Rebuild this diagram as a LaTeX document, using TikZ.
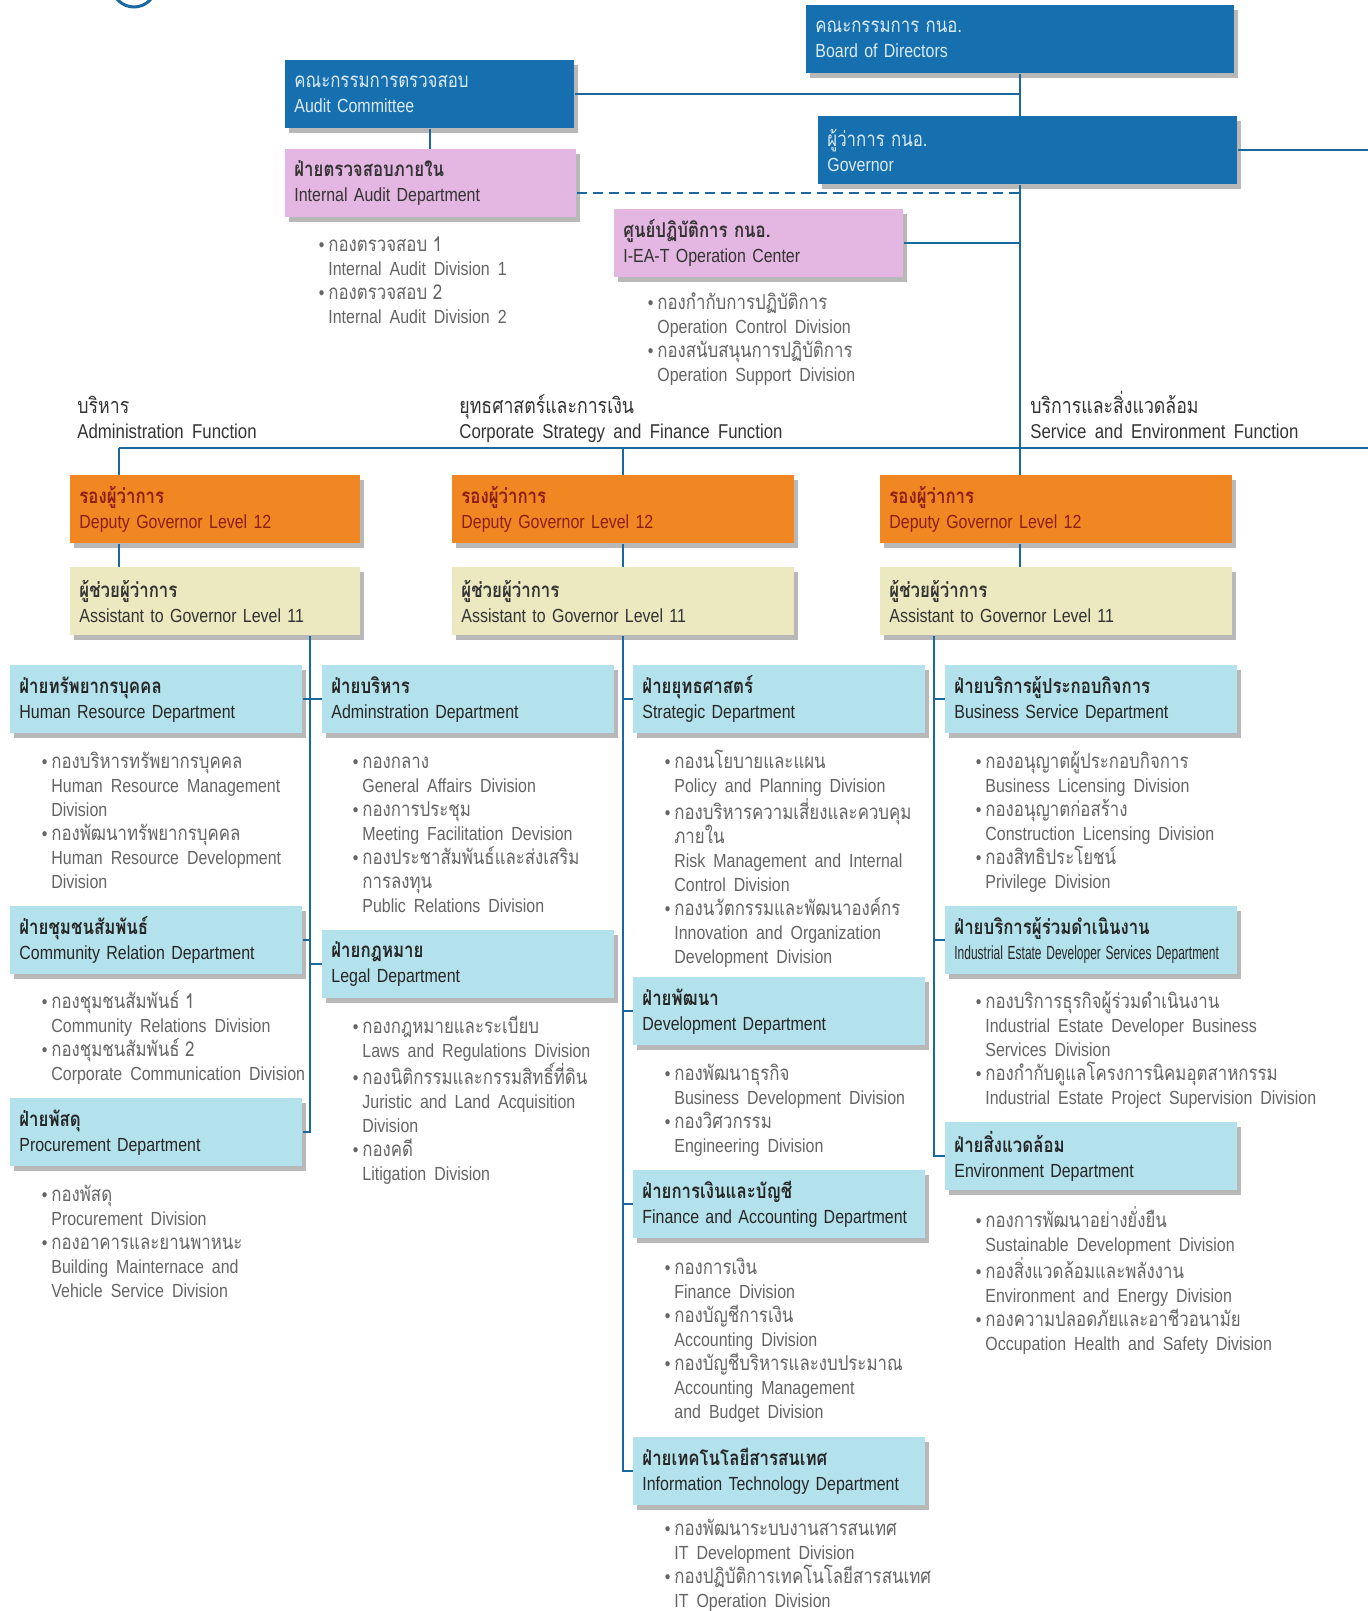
\documentclass[tikz,border=0pt]{standalone}
\usepackage{fontspec}
\setmainfont{Liberation Sans}[FakeStretch=0.84, WordSpace=1.8]
\newfontfamily\thaifont[Script=Thai, Scale=1.08, FakeStretch=0.82]{Loma}
\usepackage{graphicx}
\usetikzlibrary{positioning, shadows}

\definecolor{boardblue}{RGB}{22,112,176}
\definecolor{auditpink}{RGB}{228,182,226}
\definecolor{deporange}{RGB}{240,135,35}
\definecolor{asstyellow}{RGB}{236,232,192}
\definecolor{deptcyan}{RGB}{180,226,236}
\definecolor{linkblue}{RGB}{25,105,160}
\definecolor{divgray}{RGB}{100,100,100}
\definecolor{depred}{RGB}{140,30,20}

\newcommand{\thline}[1]{{\thaifont #1}}
\newcommand{\thhead}[1]{{\thaifont\bfseries #1}}
\newcommand{\topstrut}{\vrule height 9.5pt width 0pt}
\newcommand{\labelstrut}{\vrule height 12pt width 0pt}
\newcommand{\bul}{\llap{\textbullet\hspace{2pt}}\topstrut}

\begin{document}
\begin{tikzpicture}[
    x=0.5pt, y=-0.5pt,
    every node/.style={font=\fontsize{9.5}{12.5}\selectfont},
    box/.style={rectangle, anchor=north west, inner xsep=4.5pt, inner ysep=0pt,
                minimum height=34pt, align=left,
                drop shadow={shadow xshift=2pt, shadow yshift=-2.5pt, opacity=0.28, fill=black}},
    topbox/.style={box, fill=boardblue, text=white!85!boardblue},
    pinkbox/.style={box, fill=auditpink, text=black!80},
    depbox/.style={box, fill=deporange, text=depred},
    asstbox/.style={box, fill=asstyellow, text=black!80},
    deptbox/.style={box, fill=deptcyan, text=black!85, text width=137pt},
    divlist/.style={anchor=north west, inner sep=0pt, align=left, text=divgray,
                    font=\fontsize{9.5}{12}\selectfont},
    funclabel/.style={anchor=north west, inner sep=0pt, align=left, text=black!80,
                      font=\fontsize{10}{12.5}\selectfont},
    link/.style={draw=linkblue, line width=1pt},
    dashlink/.style={link, dash pattern=on 5pt off 3pt},
]
\useasboundingbox (0,0) rectangle (1368,1611);
\clip (0,0) rectangle (1368,1611);

\draw[linkblue, line width=1.5pt] (134,-15) circle[radius=22];

% top level
\node[topbox, text width=205pt] (board) at (806,5) {\thline{คณะกรรมการ กนอ.}\\Board of Directors};
\node[topbox, text width=200.5pt] (gov) at (818,116) {\thline{ผู้ว่าการ กนอ.}\\Governor};
\node[topbox, text width=135.5pt] (audit) at (285,60) {\thline{คณะกรรมการตรวจสอบ}\\Audit Committee};
\node[pinkbox, text width=136.5pt] (iad) at (285,149) {\thhead{ฝ่ายตรวจสอบภายใน}\\Internal Audit Department};
\node[pinkbox, text width=135.5pt] (ioc) at (614,209) {\thhead{ศูนย์ปฏิบัติการ กนอ.}\\I-EA-T Operation Center};

\node[divlist, below right=7pt and 21.5pt of iad.south west] (iadL)
    {\bul\thline{กองตรวจสอบ 1}\\Internal Audit Division 1\\\bul\thline{กองตรวจสอบ 2}\\Internal Audit Division 2};
\node[divlist, below right=6pt and 21.5pt of ioc.south west] (iocL)
    {\bul\thline{กองกำกับการปฏิบัติการ}\\Operation Control Division\\\bul\thline{กองสนับสนุนการปฏิบัติการ}\\Operation Support Division};

% functions
\node[funclabel] (fadm) at (77,389) {\labelstrut\thline{บริหาร}\\Administration Function};
\node[funclabel] (fcsf) at (459,389) {\labelstrut\thline{ยุทธศาสตร์และการเงิน}\\Corporate Strategy and Finance Function};
\node[funclabel] (fse) at (1030,389) {\labelstrut\thline{บริการและสิ่งแวดล้อม}\\Service and Environment Function};

\node[depbox, text width=136pt] (dep1) at (70,475) {\thhead{รองผู้ว่าการ}\\Deputy Governor Level 12};
\node[depbox, text width=162pt] (dep2) at (452,475) {\thhead{รองผู้ว่าการ}\\Deputy Governor Level 12};
\node[depbox, text width=167pt] (dep3) at (880,475) {\thhead{รองผู้ว่าการ}\\Deputy Governor Level 12};

\node[asstbox, text width=136pt] (asst1) at (70,567) {\thhead{ผู้ช่วยผู้ว่าการ}\\Assistant to Governor Level 11};
\node[asstbox, text width=162pt] (asst2) at (452,567) {\thhead{ผู้ช่วยผู้ว่าการ}\\Assistant to Governor Level 11};
\node[asstbox, text width=167pt] (asst3) at (880,567) {\thhead{ผู้ช่วยผู้ว่าการ}\\Assistant to Governor Level 11};

% departments
\node[deptbox] (hr) at (10,665) {\thhead{ฝ่ายทรัพยากรบุคคล}\\Human Resource Department};
\node[deptbox] (comm) at (10,906) {\thhead{ฝ่ายชุมชนสัมพันธ์}\\Community Relation Department};
\node[deptbox] (proc) at (10,1098) {\thhead{ฝ่ายพัสดุ}\\Procurement Department};
\node[deptbox] (admin) at (322,665) {\thhead{ฝ่ายบริหาร}\\Adminstration Department};
\node[deptbox] (legal) at (322,930) {\thhead{ฝ่ายกฎหมาย}\\Legal Department};
\node[deptbox] (strat) at (633,665) {\thhead{ฝ่ายยุทธศาสตร์}\\Strategic Department};
\node[deptbox] (devt) at (633,977) {\thhead{ฝ่ายพัฒนา}\\Development Department};
\node[deptbox] (fin) at (633,1170) {\thhead{ฝ่ายการเงินและบัญชี}\\Finance and Accounting Department};
\node[deptbox] (it) at (633,1437) {\thhead{ฝ่ายเทคโนโลยีสารสนเทศ}\\Information Technology Department};
\node[deptbox] (bsd) at (945,665) {\thhead{ฝ่ายบริการผู้ประกอบกิจการ}\\Business Service Department};
\node[deptbox] (ieds) at (945,906) {\thhead{ฝ่ายบริการผู้ร่วมดำเนินงาน}\\\scalebox{0.75}[1]{Industrial Estate Developer Services Department}};
\node[deptbox] (env) at (945,1122) {\thhead{ฝ่ายสิ่งแวดล้อม}\\Environment Department};

% divisions
\node[divlist, below right=7.5pt and 20.5pt of hr.south west] (hrL)
    {\bul\thline{กองบริหารทรัพยากรบุคคล}\\Human Resource Management\\Division\\
     \bul\thline{กองพัฒนาทรัพยากรบุคคล}\\Human Resource Development\\Division};
\node[divlist, below right=7pt and 20.5pt of comm.south west] (commL)
    {\bul\thline{กองชุมชนสัมพันธ์ 1}\\Community Relations Division\\
     \bul\thline{กองชุมชนสัมพันธ์ 2}\\Corporate Communication Division};
\node[divlist, below right=7.5pt and 20.5pt of proc.south west] (procL)
    {\bul\thline{กองพัสดุ}\\Procurement Division\\
     \bul\thline{กองอาคารและยานพาหนะ}\\Building Mainternace and\\Vehicle Service Division};
\node[divlist, below right=7.5pt and 20pt of admin.south west] (adminL)
    {\bul\thline{กองกลาง}\\General Affairs Division\\
     \bul\thline{กองการประชุม}\\Meeting Facilitation Devision\\
     \bul\thline{กองประชาสัมพันธ์และส่งเสริม}\\\thline{การลงทุน}\\Public Relations Division};
\node[divlist, below right=7.5pt and 20pt of legal.south west] (legalL)
    {\bul\thline{กองกฎหมายและระเบียบ}\\Laws and Regulations Division\\
     \bul\thline{กองนิติกรรมและกรรมสิทธิ์ที่ดิน}\\Juristic and Land Acquisition\\Division\\
     \bul\thline{กองคดี}\\Litigation Division};
\node[divlist, below right=7.5pt and 20.5pt of strat.south west] (stratL)
    {\bul\thline{กองนโยบายและแผน}\\Policy and Planning Division\\
     \bul\thline{กองบริหารความเสี่ยงและควบคุม}\\\thline{ภายใน}\\Risk Management and Internal\\Control Division\\
     \bul\thline{กองนวัตกรรมและพัฒนาองค์กร}\\Innovation and Organization\\Development Division};
\node[divlist, below right=7.5pt and 20.5pt of devt.south west] (devtL)
    {\bul\thline{กองพัฒนาธุรกิจ}\\Business Development Division\\
     \bul\thline{กองวิศวกรรม}\\Engineering Division};
\node[divlist, below right=8pt and 20.5pt of fin.south west] (finL)
    {\bul\thline{กองการเงิน}\\Finance Division\\
     \bul\thline{กองบัญชีการเงิน}\\Accounting Division\\
     \bul\thline{กองบัญชีบริหารและงบประมาณ}\\Accounting Management\\and Budget Division};
\node[divlist, below right=5pt and 20.5pt of it.south west] (itL)
    {\bul\thline{กองพัฒนาระบบงานสารสนเทศ}\\IT Development Division\\
     \bul\thline{กองปฏิบัติการเทคโนโลยีสารสนเทศ}\\IT Operation Division};
\node[divlist, below right=7.5pt and 20pt of bsd.south west] (bsdL)
    {\bul\thline{กองอนุญาตผู้ประกอบกิจการ}\\Business Licensing Division\\
     \bul\thline{กองอนุญาตก่อสร้าง}\\Construction Licensing Division\\
     \bul\thline{กองสิทธิประโยชน์}\\Privilege Division};
\node[divlist, below right=7pt and 20pt of ieds.south west] (iedsL)
    {\bul\thline{กองบริการธุรกิจผู้ร่วมดำเนินงาน}\\Industrial Estate Developer Business\\Services Division\\
     \bul\thline{กองกำกับดูแลโครงการนิคมอุตสาหกรรม}\\Industrial Estate Project Supervision Division};
\node[divlist, below right=7.5pt and 20pt of env.south west] (envL)
    {\bul\thline{กองการพัฒนาอย่างยั่งยืน}\\Sustainable Development Division\\
     \bul\thline{กองสิ่งแวดล้อมและพลังงาน}\\Environment and Energy Division\\
     \bul\thline{กองความปลอดภัยและอาชีวอนามัย}\\Occupation Health and Safety Division};

% connectors
\coordinate (trA) at (310,0);
\coordinate (trC) at (934,0);
\coordinate (edgeR) at (1368,0);
\coordinate (funcL) at (119,448);

\draw[link] (board.south) -- (board.south |- gov.north);
\draw[link] (board.south |- gov.south) -- (board.south |- dep3.north);
\draw[link] (audit.east) -- (audit.east -| board.south);
\draw[link] (audit.south) -- (audit.south |- iad.north);
\draw[dashlink] ([yshift=-4.75pt]iad.east) -- ([yshift=-4.75pt]iad.east -| board.south);
\draw[link] (ioc.east) -- (ioc.east -| board.south);
\draw[link] (gov.east) -- (gov.east -| edgeR);

\draw[link] (funcL) -- (funcL -| edgeR);
\draw[link] (funcL) -- (funcL |- dep1.north);
\draw[link] (dep2.north |- funcL) -- (dep2.north);
\draw[link] (dep1.south -| funcL) -- (asst1.north -| funcL);
\draw[link] (dep2.south) -- (asst2.north);
\draw[link] (dep3.south -| board.south) -- (asst3.north -| board.south);

\draw[link] (asst1.south -| trA) |- (proc.east);
\draw[link] (hr.east) -- (hr.east -| trA);
\draw[link] (comm.east) -- (comm.east -| trA);
\draw[link] (trA |- admin.west) -- (admin.west);
\draw[link] (trA |- legal.west) -- (legal.west);

\draw[link] (asst2.south) |- (it.west);
\draw[link] (asst2.south |- strat.west) -- (strat.west);
\draw[link] (asst2.south |- devt.west) -- (devt.west);
\draw[link] (asst2.south |- fin.west) -- (fin.west);

\draw[link] (asst3.south -| trC) |- (env.west);
\draw[link] (trC |- bsd.west) -- (bsd.west);
\draw[link] (trC |- ieds.west) -- (ieds.west);

\end{tikzpicture}
\end{document}
